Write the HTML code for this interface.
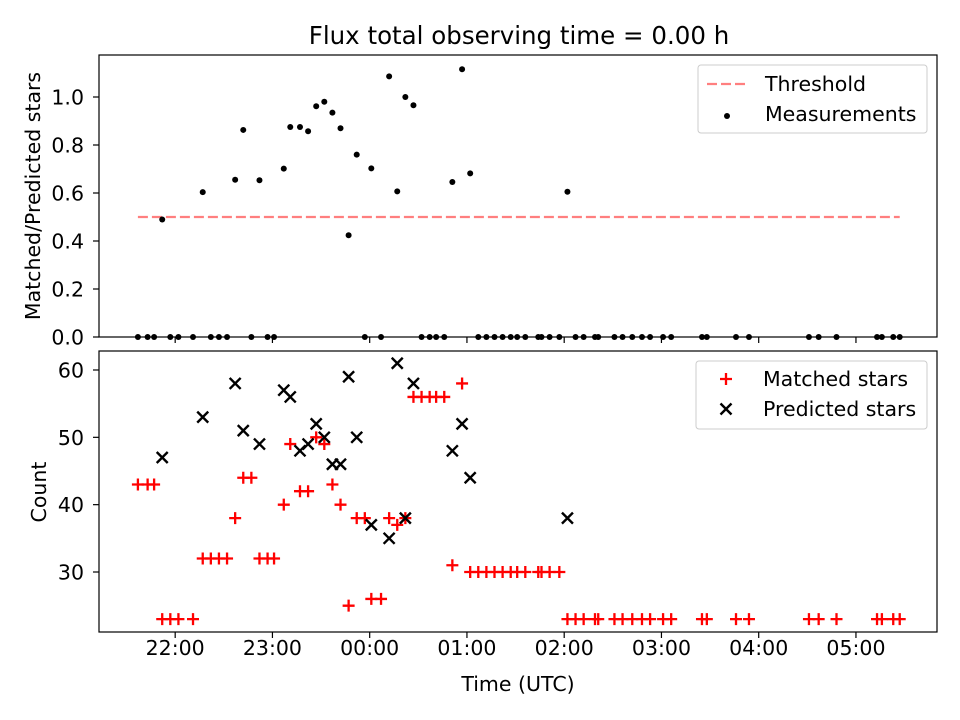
<!DOCTYPE html>
<html><head><meta charset="utf-8"><style>
body{margin:0;background:#fff}
svg{display:block;font-family:"DejaVu Sans","Liberation Sans",sans-serif}
</style></head><body>
<svg id="chart" width="960" height="720" viewBox="0 0 960 720" xmlns="http://www.w3.org/2000/svg">
<rect width="960" height="720" fill="#fff"/>
<text x="519" y="44" font-size="24.5" text-anchor="middle">Flux total observing time = 0.00 h</text>
<g id="topPanel"></g>
<g id="botPanel"></g>
<text transform="translate(40,196) rotate(-90)" font-size="20.5" text-anchor="middle">Matched/Predicted stars</text>
<text transform="translate(46,492) rotate(-90)" font-size="20.5" text-anchor="middle">Count</text>
<text x="518" y="691" font-size="20.5" text-anchor="middle">Time (UTC)</text>
<g>
<rect x="698" y="65" width="229" height="68" rx="3" fill="#fff" stroke="#ccc"/>
<line x1="707" y1="84" x2="747" y2="84" stroke="#ff0000" stroke-opacity="0.5" stroke-width="2.2" stroke-dasharray="10,4"/>
<text x="765" y="91" font-size="20.5">Threshold</text>
<circle cx="727" cy="116" r="3" fill="#000"/>
<text x="765" y="121" font-size="20.5">Measurements</text>
</g>
<g>
<rect x="696" y="361" width="231" height="68" rx="3" fill="#fff" stroke="#ccc"/>
<path d="M720 379h12M726 373v12" stroke="#f00" stroke-width="2.3"/>
<text x="763" y="386" font-size="20.5">Matched stars</text>
<path d="M720.5 403.5l11 11M731.5 403.5l-11 11" stroke="#000" stroke-width="2.4"/>
<text x="763" y="416" font-size="20.5">Predicted stars</text>
</g>
</svg>
<script>
// minutes since 21:00 UTC
const times=[37,43,47,52,57,62,71,77,82,87,92,97,102,107,112,117,121,127,131,137,142,147,152,157,162,167,172,177,181,187,192,197,202,207,212,217,221,226,231,237,242,247,252,257,262,267,271,276,284,286,291,297,302,307,312,319,321,331,336,342,348,353,361,366,385,388,406,414,451,457,468,493,496,503,507];
const matched=[43,43,43,23,23,23,23,32,32,32,32,38,44,44,32,32,32,40,49,42,42,50,49,43,40,25,38,38,26,26,38,37,38,56,56,56,56,56,31,58,30,30,30,30,30,30,30,30,30,30,30,30,23,23,23,23,23,23,23,23,23,23,23,23,23,23,23,23,23,23,23,23,23,23,23];
const predicted=[null,null,null,47,null,null,null,53,null,null,null,58,51,null,49,null,null,57,56,48,49,52,50,46,46,59,50,null,37,null,35,61,38,58,null,null,null,null,48,52,44,null,null,null,null,null,null,null,null,null,null,null,38,null,null,null,null,null,null,null,null,null,null,null,null,null,null,null,null,null,null,null,null,null,null];
const threshold=0.5;
const topYTicks=[0,0.2,0.4,0.6,0.8,1.0];
const botYTicks=[30,40,50,60];
const xTicks=[60,120,180,240,300,360,420,480];
const xTickLabels=["22:00","23:00","00:00","01:00","02:00","03:00","04:00","05:00"];

const NS="http://www.w3.org/2000/svg";
const L=99,R=937;
const xDom=[13,530];
const X=m=>L+(m-xDom[0])/(xDom[1]-xDom[0])*(R-L);
const TT=55,TB=337,BT=351,BB=632;
const YT=v=>TB-(v-0)/(1.175-0)*(TB-TT);
const YB=v=>BB-(v-21.09)/(62.82-21.09)*(BB-BT);
function mk(tag,attrs,parent){const e=document.createElementNS(NS,tag);for(const k in attrs)e.setAttribute(k,attrs[k]);parent.appendChild(e);return e;}
const topG=document.getElementById('topPanel'),botG=document.getElementById('botPanel');

function axes(g,t,b,yTicks,Y,fmt,showX,pre){
  for(let i=0;i<xTicks.length;i++){
    const x=X(xTicks[i]);
    const tk=mk('line',{x1:x,x2:x,y1:b,y2:b+6,stroke:'#000','stroke-width':1.2},g);
    
    
    if(showX){const tx=mk('text',{x:x,y:b+23,'font-size':20.5,'text-anchor':'middle'},g);tx.textContent=xTickLabels[i];
      
      }
  }
  for(const v of yTicks){
    const y=Y(v);
    const tk=mk('line',{x1:L-6,x2:L,y1:y,y2:y,stroke:'#000','stroke-width':1.2},g);
    
    
    const tx=mk('text',{x:L-15,y:y+7.5,'font-size':20.5,'text-anchor':'end'},g);tx.textContent=fmt(v);
    
    
  }
}
axes(topG,TT,TB,topYTicks,YT,v=>v.toFixed(1),false,'top');
axes(botG,BT,BB,botYTicks,YB,v=>String(v),true,'bottom');

const th=mk('line',{x1:X(times[0]),x2:X(times[times.length-1]),y1:YT(threshold),y2:YT(threshold),stroke:'#ff0000','stroke-opacity':0.5,'stroke-width':2.2,'stroke-dasharray':'10,4'},topG);


for(let i=0;i<times.length;i++){
  const r=predicted[i]?matched[i]/predicted[i]:0;
  const c=mk('circle',{cx:X(times[i]),cy:YT(r),r:3,fill:'#000'},topG);
  
  
}
for(let i=0;i<times.length;i++){
  const x=X(times[i]),y=YB(matched[i]);
  const p=mk('path',{d:`M${x-6} ${y}h12M${x} ${y-6}v12`,stroke:'#f00','stroke-width':2.3},botG);
  
  
}
for(let i=0;i<times.length;i++){
  if(predicted[i]==null)continue;
  const x=X(times[i]),y=YB(predicted[i]);
  const p=mk('path',{d:`M${x-5.5} ${y-5.5}l11 11M${x+5.5} ${y-5.5}l-11 11`,stroke:'#000','stroke-width':2.4},botG);
  
  
}
const f1=mk('rect',{x:L,y:TT,width:R-L,height:TB-TT,fill:'none',stroke:'#000','stroke-width':1.2},topG);


const f2=mk('rect',{x:L,y:BT,width:R-L,height:BB-BT,fill:'none',stroke:'#000','stroke-width':1.2},botG);


</script>
</body></html>
